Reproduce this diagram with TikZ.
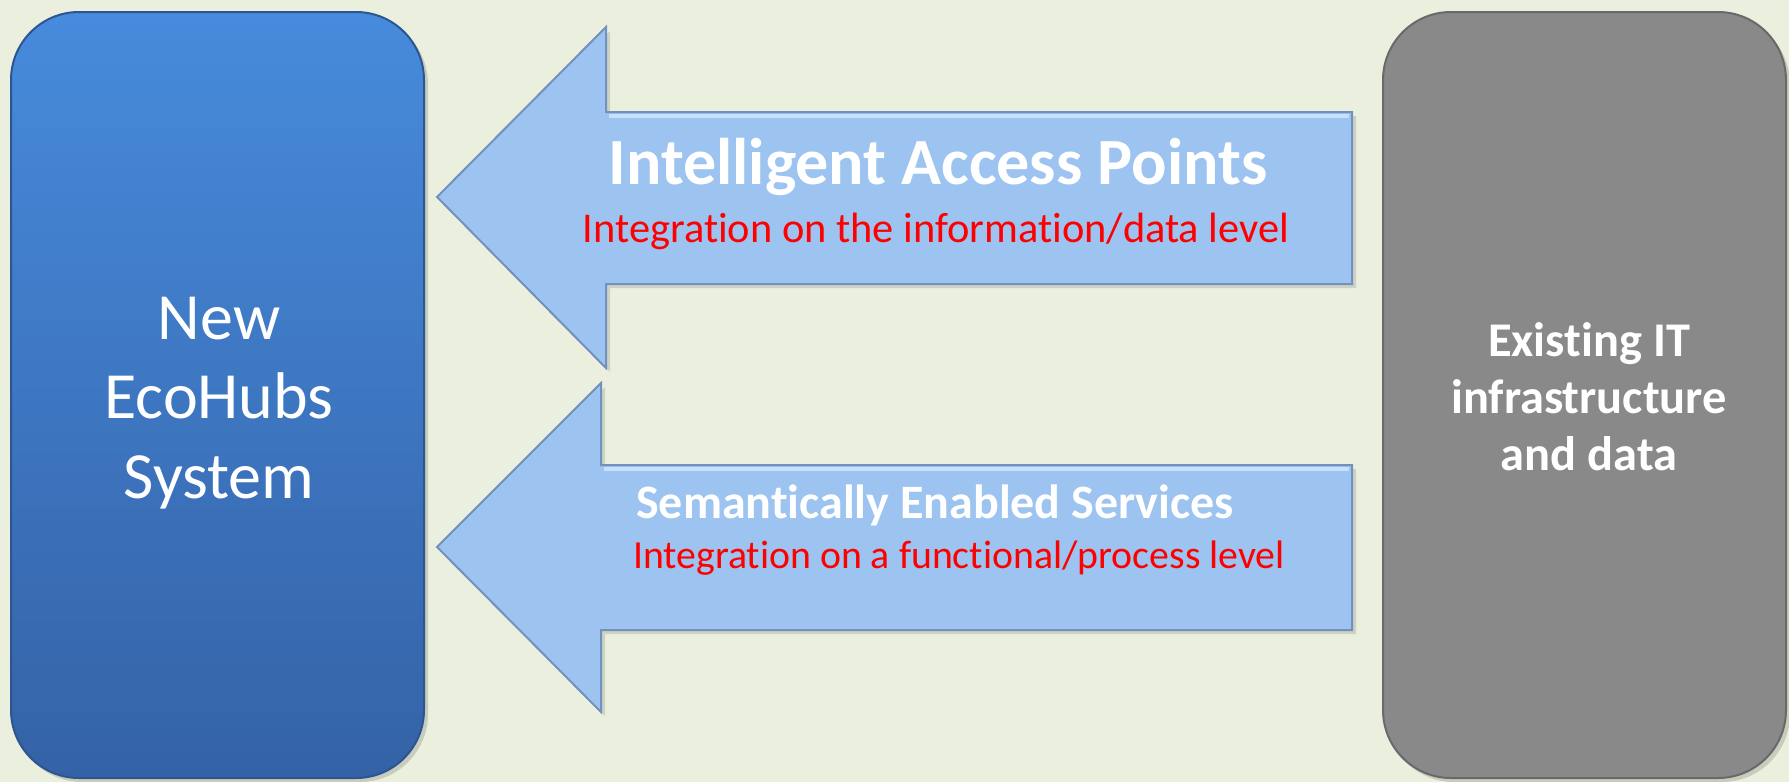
\documentclass[tikz,border=0pt]{standalone}
\usepackage{fontspec}
\setmainfont{Carlito}[Ligatures={TeX,NoCommon}]
\definecolor{bg}{RGB}{235,240,222}
\definecolor{bluetop}{RGB}{71,139,220}
\definecolor{bluebot}{RGB}{52,98,166}
\definecolor{blueedge}{RGB}{45,85,145}
\definecolor{arrowfill}{RGB}{157,195,240}
\definecolor{arrowedge}{RGB}{115,145,190}
\definecolor{arrowlight}{RGB}{200,225,250}
\definecolor{grayfill}{RGB}{137,137,137}
\definecolor{grayedge}{RGB}{105,105,105}
\definecolor{redtext}{RGB}{255,0,0}
\begin{document}
\begin{tikzpicture}[x=0.5pt,y=-0.5pt,
  arrowshape/.style={fill=arrowfill,draw=arrowedge,line width=1pt,line join=miter},
  arrowshadow/.style={fill=black,opacity=0.12},
  boxlabel/.style={anchor=base,text=white,inner sep=0pt},
  boldtitle/.style={anchor=base,text=white,inner sep=0pt,font=\bfseries\fontsize{33}{40}\selectfont},
  redlabel/.style={anchor=base,text=redtext,inner sep=0pt}]
\fill[bg] (0,0) rectangle (1789,782);
\useasboundingbox (0,0) rectangle (1789,782);
% left box
\fill[black,opacity=0.15,rounded corners=34pt] (14,16) rectangle (428,782);
\shade[top color=bluetop,bottom color=bluebot,draw=blueedge,line width=1pt,rounded corners=34pt] (11,12) rectangle (424,778);
% right box
\fill[black,opacity=0.15,rounded corners=34pt] (1386,16) rectangle (1790,782);
\fill[grayfill,draw=grayedge,line width=1pt,rounded corners=34pt] (1383,12) rectangle (1786,778);
% arrow 1
\fill[arrowshadow] (441,201) -- (610,31) -- (610,116) -- (1356,116) -- (1356,288) -- (610,288) -- (610,372) -- cycle;
\path[arrowshape] (437,197) -- (606,27) -- (606,112) -- (1352,112) -- (1352,284) -- (606,284) -- (606,368) -- cycle;
\draw[arrowlight,line width=2pt] (609,116) -- (1349,116);
% arrow 2
\fill[arrowshadow] (441,551) -- (605,387) -- (605,469) -- (1356,469) -- (1356,634) -- (605,634) -- (605,716) -- cycle;
\path[arrowshape] (437,547) -- (601,383) -- (601,465) -- (1352,465) -- (1352,630) -- (601,630) -- (601,712) -- cycle;
\draw[arrowlight,line width=2pt] (604,469) -- (1349,469);
% left texts
\node[boxlabel,font=\fontsize{33}{40}\selectfont] (l1) at (219,339) {New};
\node[boxlabel,font=\fontsize{33}{40}\selectfont] (l2) at (219,418) {EcoHubs};
\node[boxlabel,font=\fontsize{33}{40}\selectfont] (l3) at (219,498) {System};
% right texts
\node[boxlabel,font=\bfseries\fontsize{24.2}{29}\selectfont] (r1) at (1589,356) {Existing IT};
\node[boxlabel,font=\bfseries\fontsize{24.2}{29}\selectfont] (r2) at (1589,413) {infrastructure};
\node[boxlabel,font=\bfseries\fontsize{24.2}{29}\selectfont] (r3) at (1589,470) {and data};
% arrow texts
\node[boldtitle] (t1) at (938,184) {Intelligent Access Points};
\node[redlabel,font=\fontsize{21.2}{26}\selectfont] (s1) at (936,242) {Integration on the information/data level};
\node[anchor=base,text=white,inner sep=0pt,font=\bfseries\fontsize{24}{29}\selectfont] (t2) at (935,518) {Semantically Enabled Services};
\node[redlabel,font=\fontsize{19.9}{24}\selectfont] (s2) at (959,568) {Integration on a functional/process level};
\end{tikzpicture}
\end{document}
